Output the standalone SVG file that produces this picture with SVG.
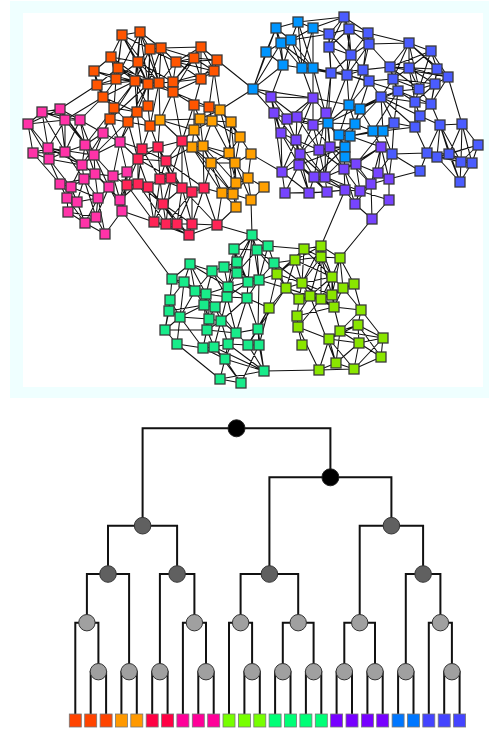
<svg xmlns="http://www.w3.org/2000/svg" width="489" height="730" viewBox="0 0 489 730">
<style>
.e{fill:none;stroke:#111;stroke-width:1.05}
.n rect{width:10px;height:10px;stroke:#3a3a3a;stroke-width:1.3}
.o{fill:#ff5500}.a{fill:#ffa000}.p{fill:#ff33a8}.r{fill:#ff2456}.z{fill:#0095ff}.b{fill:#4a5cff}.v{fill:#7744ff}.g{fill:#18eb8a}.l{fill:#8ae600}
.t{fill:none;stroke:#111;stroke-width:2}
.c0{fill:#000;stroke:#222;stroke-width:1}.c1{fill:#606060;stroke:#333;stroke-width:1}.c2{fill:#a0a0a0;stroke:#333;stroke-width:1}
.lf{stroke:#777;stroke-width:0.8}
</style>
<rect x="10" y="1" width="486" height="397" fill="#efffff"/>
<rect x="23" y="13" width="460" height="374" fill="#fff"/>
<g id="connectors">
<path class="e" d="M122 35L140 32M122 35L150 49M122 35L138 62M122 35L118 68M122 35L116 79M122 35L148 84M140 32L150 49M140 32L161 48M140 32L138 62M140 32L135 81M140 32L148 84M150 49L161 48M150 49L138 62M150 49L135 81M150 49L159 83M150 49L148 106M161 48L148 84M161 48L159 83M161 48L176 62M161 48L194 58M161 48L201 47M111 57L118 68M111 57L94 71M111 57L116 79M111 57L135 81M111 57L138 62M138 62L116 79M138 62L135 81M138 62L148 84M138 62L159 83M138 62L137 112M118 68L116 79M118 68L97 85M118 68L135 81M118 68L148 84M94 71L116 79M94 71L97 85M94 71L103 97M116 79L97 85M116 79L135 81M116 79L103 97M116 79L114 108M116 79L159 83M97 85L103 97M97 85L114 108M135 81L148 84M135 81L159 83M135 81L137 112M135 81L148 106M135 81L110 119M148 84L159 83M148 84L173 82M148 84L148 106M148 84L137 112M148 84L128 122M159 83L173 82M159 83L173 92M159 83L150 126M173 82L176 62M173 82L194 58M173 82L201 79M173 82L173 92M176 62L194 58M176 62L201 47M176 62L214 71M176 62L201 79M194 58L201 47M194 58L217 60M194 58L214 71M194 58L201 79M201 47L217 60M201 47L214 71M217 60L214 71M217 60L201 79M214 71L201 79M214 71L209 107M201 79L194 105M201 79L173 92M173 92L194 105M103 97L114 108M103 97L137 112M114 108L110 119M114 108L128 122M114 108L137 112M137 112L148 106M137 112L128 122M137 112L150 126M148 106L150 126M110 119L128 122M128 122L150 126M194 105L209 107M173 92L209 107M173 82L201 47M150 49L148 84M122 35L111 57M140 32L159 83M148 84L173 92M159 83L176 62M176 62L150 49M122 35L159 83M140 32L116 79M111 57L148 84M118 68L159 83M94 71L135 81M97 85L135 81M116 79L148 84M103 97L135 81M114 108L135 81M110 119L148 84M173 82L214 71M194 58L173 92M201 47L201 79M176 62L217 60M161 48L173 82M138 62L173 82"/>
<path class="e" d="M160 120L200 119M200 119L212 121M200 119L220 110M200 119L194 130M200 119L203 146M212 121L231 122M212 121L220 110M212 121L240 137M212 121L203 146M212 121L229 153M231 122L220 110M231 122L240 137M231 122L229 153M220 110L240 137M220 110L235 163M194 130L192 147M194 130L203 146M194 130L212 121M240 137L229 153M240 137L235 163M240 137L251 154M192 147L203 146M192 147L211 163M192 147L222 193M203 146L229 153M203 146L211 163M203 146L235 163M203 146L236 183M229 153L211 163M229 153L235 163M229 153L236 183M229 153L233 194M211 163L235 163M211 163L222 193M211 163L233 194M235 163L236 183M235 163L233 194M235 163L251 154M235 163L248 178M236 183L222 193M236 183L233 194M236 183L248 178M236 183L236 207M222 193L233 194M222 193L236 207M233 194L248 178M233 194L251 200M233 194L236 207M251 154L248 178M248 178L264 187M248 178L251 200M264 187L251 200M235 163L251 200M192 147L233 194M194 130L211 163M160 120L194 130M231 122L235 163"/>
<path class="e" d="M28 124L42 112M28 124L60 109M28 124L65 120M28 124L33 153M28 124L48 148M28 124L49 159M42 112L60 109M42 112L65 120M42 112L48 148M42 112L65 152M60 109L65 120M60 109L80 120M60 109L65 152M60 109L85 145M65 120L80 120M65 120L48 148M65 120L65 152M65 120L94 155M80 120L103 133M80 120L65 152M80 120L85 145M80 120L94 155M103 133L120 142M103 133L85 145M103 133L94 155M103 133L82 165M120 142L94 155M120 142L113 176M120 142L127 172M33 153L48 148M33 153L49 159M33 153L60 184M48 148L49 159M48 148L65 152M48 148L82 165M49 159L65 152M49 159L60 184M49 159L71 187M65 152L85 145M65 152L82 165M65 152L84 179M85 145L94 155M85 145L82 165M85 145L95 174M94 155L82 165M94 155L95 174M94 155L113 176M82 165L84 179M82 165L95 174M60 184L71 187M60 184L67 198M60 184L84 179M71 187L84 179M71 187L67 198M71 187L77 202M71 187L98 198M84 179L95 174M84 179L77 202M84 179L98 198M95 174L113 176M95 174L109 187M95 174L98 198M113 176L127 172M113 176L109 187M113 176L120 200M127 172L120 200M127 172L122 211M109 187L98 198M109 187L120 200M109 187L96 217M67 198L77 202M67 198L68 212M77 202L98 198M77 202L68 212M77 202L85 223M98 198L96 217M98 198L85 223M120 200L122 211M68 212L85 223M68 212L96 217M96 217L85 223M96 217L105 234M122 211L105 234M85 223L105 234M98 198L105 234M109 187L122 211M82 165L71 187M33 153L65 152M42 112L80 120M60 109L94 155M48 148L94 155M49 159L82 165M65 152L95 174M60 184L77 202M71 187L85 223M84 179L96 217M95 174L120 200M94 155L109 187M85 145L113 176M67 198L85 223"/>
<path class="e" d="M182 141L158 147M182 141L166 161M182 141L171 178M182 141L182 188M182 141L192 192M158 147L142 149M158 147L138 159M158 147L166 161M158 147L160 179M142 149L138 159M142 149L166 161M142 149L138 184M138 159L166 161M138 159L138 184M138 159L127 185M138 159L148 187M166 161L160 179M166 161L171 178M166 161L182 188M160 179L171 178M160 179L148 187M160 179L182 188M160 179L163 204M171 178L182 188M171 178L192 192M171 178L163 204M148 187L138 184M148 187L163 204M148 187L154 222M138 184L127 185M138 184L163 204M127 185L154 222M182 188L192 192M182 188L204 188M182 188L163 204M182 188L177 224M182 188L192 224M192 192L204 188M192 192L192 224M192 192L166 224M204 188L217 225M204 188L192 224M163 204L154 222M163 204L166 224M163 204L177 224M163 204L192 224M154 222L166 224M154 222L189 235M166 224L177 224M166 224L189 235M177 224L192 224M177 224L189 235M192 224L217 225M192 224L189 235M217 225L189 235M192 192L177 224M171 178L166 224M166 161L204 188M158 147L171 178M127 185L148 187M160 179L154 222M142 149L160 179M138 159L171 178M138 184L166 224M148 187L177 224M160 179L192 192M163 204L189 235M182 188L217 225"/>
<path class="e" d="M103 97L65 120M103 97L80 120M97 85L60 109M110 119L103 133M114 108L103 133M110 119L120 142M128 122L120 142M137 112L142 149M150 126L158 147M150 126L142 149M128 122L138 159M173 92L182 141M194 105L200 119M194 105L194 130M209 107L212 121M209 107L220 110M214 71L220 110M209 107L200 119M159 83L160 120M150 126L160 120M173 92L160 120M194 105L182 141M160 120L182 141M160 120L158 147M194 130L182 141M192 147L182 141M192 147L166 161M211 163L204 188M222 193L204 188M203 146L204 188M236 207L217 225M222 193L217 225M120 142L142 149M120 142L138 159M127 172L127 185M127 172L138 159M113 176L127 185M122 211L127 185M120 200L138 184M122 211L154 222M120 200L127 185M137 112L120 142M114 108L85 145M137 112L94 155M217 60L253 89M220 110L253 89M251 154L282 172M251 200L252 235M217 225L252 235M122 211L172 279M345 190L321 246M372 219L340 258M264 371L319 370"/>
<path class="e" d="M276 28L298 22M276 28L281 43M276 28L291 40M276 28L266 52M276 28L283 65M298 22L313 28M298 22L291 40M298 22L302 68M313 28L291 40M313 28L313 68M313 28L302 68M281 43L291 40M281 43L266 52M281 43L283 65M281 43L302 68M281 43L313 68M291 40L283 65M291 40L302 68M291 40L313 68M266 52L283 65M266 52L253 89M283 65L302 68M283 65L253 89M302 68L313 68M276 28L253 89M281 43L253 89M298 22L313 68M349 105L360 109M349 105L328 123M349 105L355 124M349 105L339 135M360 109L355 124M360 109L350 136M360 109L373 131M328 123L339 135M328 123L345 147M355 124L339 135M355 124L350 136M355 124L373 131M339 135L350 136M339 135L345 147M339 135L345 157M350 136L373 131M350 136L345 147M350 136L345 157M373 131L383 131M383 131L350 136M345 147L345 157M328 123L355 124M313 68L328 123M298 22L344 17"/>
<path class="e" d="M344 17L329 34M344 17L349 29M344 17L368 33M344 17L329 47M344 17L351 55M329 34L349 29M329 34L329 47M329 34L351 55M329 34L331 73M349 29L368 33M349 29L329 47M349 29L369 44M349 29L351 55M349 29L347 75M368 33L369 44M368 33L351 55M368 33L363 70M368 33L409 43M329 47L351 55M329 47L331 73M329 47L347 75M369 44L351 55M369 44L363 70M369 44L347 75M369 44L409 43M351 55L363 70M351 55L331 73M351 55L347 75M363 70L347 75M363 70L369 81M331 73L347 75M347 75L369 81M409 43L431 51M409 43L390 67M409 43L409 68M409 43L437 69M409 43L448 77M409 43L393 79M431 51L390 67M431 51L409 68M431 51L437 69M431 51L448 77M390 67L409 68M390 67L437 69M390 67L393 79M390 67L398 91M390 67L419 89M409 68L437 69M409 68L448 77M409 68L393 79M409 68L419 89M409 68L435 84M437 69L448 77M437 69L435 84M437 69L419 89M448 77L435 84M448 77L431 104M448 77L462 124M393 79L398 91M393 79L419 89M393 79L381 97M398 91L419 89M398 91L381 97M398 91L415 102M398 91L394 123M419 89L435 84M419 89L415 102M419 89L431 104M435 84L415 102M435 84L431 104M381 97L415 102M381 97L394 123M381 97L415 127M415 102L431 104M415 102L420 116M415 102L415 127M431 104L420 116M431 104L440 125M420 116L415 127M420 116L440 125M394 123L415 127M394 123L392 154M415 127L427 153M440 125L462 124M440 125L437 157M462 124L461 162M462 124L472 163M462 124L478 145M462 124L449 154M440 125L449 154M392 154L427 153M392 154L420 171M427 153L437 157M427 153L449 154M427 153L420 171M437 157L449 154M437 157L461 162M437 157L460 182M449 154L461 162M449 154L472 163M449 154L460 182M461 162L472 163M461 162L478 145M461 162L460 182M472 163L478 145M472 163L460 182M478 145L449 154M478 145L437 157M427 153L461 162M440 125L461 162M440 125L427 153M440 125L460 182M369 81L381 97M363 70L390 67M369 81L393 79M347 75L398 91M331 73L390 67M369 44L390 67M390 67L448 77M393 79L435 84M398 91L431 104M409 43L419 89M431 51L419 89M409 68L415 102M437 69L431 104M381 97L420 116"/>
<path class="e" d="M383 131L394 123M383 131L381 97M373 131L398 91M383 131L392 154M328 123L381 97M313 28L329 34M313 28L344 17M313 68L331 73M302 68L331 73M313 68L347 75M291 40L329 34M347 75L349 105M347 75L328 123M363 70L349 105M369 81L360 109M369 81L349 105M381 97L360 109M398 91L360 109M331 73L328 123M373 131L394 123M383 131L415 127M355 124L381 97"/>
<path class="e" d="M271 97L313 98M271 97L274 113M271 97L287 119M271 97L297 117M271 97L281 133M253 89L271 97M313 98L287 119M313 98L297 117M313 98L313 125M313 98L326 113M313 98L296 140M274 113L287 119M274 113L281 133M274 113L296 140M287 119L297 117M287 119L281 133M287 119L296 140M287 119L313 125M297 117L313 125M297 117L296 140M297 117L319 150M313 125L326 113M313 125L319 150M313 125L330 147M313 125L300 154M326 113L330 147M326 113L319 150M281 133L296 140M281 133L300 154M281 133L299 165M296 140L319 150M296 140L300 154M296 140L299 165M296 140L282 172M319 150L330 147M319 150L300 154M319 150L314 177M319 150L325 177M330 147L325 177M330 147L344 169M330 147L356 164M300 154L299 165M300 154L282 172M300 154L314 177M299 165L282 172M299 165L314 177M299 165L285 193M299 165L309 193M282 172L285 193M282 172L309 193M314 177L325 177M314 177L309 193M314 177L327 192M325 177L344 169M325 177L327 192M325 177L345 190M344 169L356 164M344 169L345 190M344 169L360 191M356 164L381 147M356 164L378 173M356 164L360 191M378 173L389 179M378 173L381 147M378 173L371 184M389 179L371 184M389 179L389 200M381 147L371 184M381 147L389 179M371 184L360 191M371 184L355 204M371 184L372 219M285 193L309 193M285 193L327 192M309 193L327 192M309 193L345 190M327 192L345 190M345 190L360 191M345 190L355 204M360 191L355 204M360 191L389 200M355 204L372 219M389 200L372 219M274 113L282 172M381 147L344 169M326 113L325 177M296 140L325 177M281 133L282 172M296 140L309 193M300 154L325 177M319 150L344 169M299 165L327 192M314 177L345 190M325 177L360 191M356 164L371 184M344 169L355 204"/>
<path class="e" d="M326 113L328 123M319 150L345 147M330 147L328 123M330 147L345 147M325 177L345 157M344 169L345 157M300 154L328 123M313 125L328 123M356 164L345 157M381 147L373 131M299 165L345 147M314 177L345 147M381 147L350 136M297 117L328 123M313 98L349 105M253 89L313 98M253 89L274 113M302 68L313 98M313 68L313 98M283 65L271 97M331 73L326 113M356 164L383 131M345 157L371 184M381 147L392 154M389 179L392 154M378 173L392 154M389 179L420 171"/>
<path class="e" d="M252 235L234 249M252 235L257 250M252 235L268 246M252 235L237 262M252 235L237 273M252 235L248 282M252 235L259 280M234 249L257 250M234 249L237 262M234 249L237 273M234 249L248 282M257 250L268 246M257 250L237 273M257 250L259 280M257 250L274 263M268 246L274 263M268 246L259 280M237 262L224 267M237 262L237 273M237 262L228 287M224 267L212 271M224 267L228 287M224 267L237 273M212 271L190 264M212 271L206 294M212 271L228 287M212 271L195 291M190 264L172 279M190 264L184 282M190 264L195 291M190 264L228 287M172 279L184 282M172 279L170 300M172 279L195 291M184 282L195 291M184 282L206 294M184 282L170 300M184 282L180 317M195 291L206 294M195 291L204 305M195 291L215 307M206 294L228 287M206 294L227 297M206 294L204 305M206 294L215 307M228 287L237 273M228 287L248 282M228 287L227 297M228 287L247 298M237 273L248 282M237 273L259 280M248 282L259 280M248 282L247 298M248 282L227 297M259 280L274 263M259 280L247 298M259 280L258 329M227 297L247 298M227 297L215 307M227 297L221 321M247 298L236 333M247 298L258 329M247 298L221 321M170 300L169 311M170 300L180 317M170 300L165 330M169 311L180 317M169 311L165 330M169 311L204 305M204 305L215 307M204 305L209 319M204 305L180 317M215 307L209 319M215 307L221 321M180 317L165 330M180 317L209 319M180 317L177 344M209 319L221 321M209 319L207 330M209 319L203 348M221 321L207 330M221 321L236 333M221 321L214 347M165 330L177 344M165 330L207 330M207 330L203 348M207 330L214 347M207 330L236 333M236 333L258 329M236 333L228 344M236 333L248 345M258 329L259 345M258 329L248 345M177 344L203 348M177 344L220 379M203 348L214 347M203 348L225 359M214 347L228 344M214 347L225 359M228 344L248 345M228 344L225 359M248 345L259 345M248 345L264 371M259 345L264 371M225 359L220 379M225 359L241 383M225 359L264 371M220 379L241 383M259 345L241 383M228 344L264 371M214 347L241 383M258 329L264 371M264 371L220 379M264 371L214 347M234 249L228 287M237 262L248 282M212 271L227 297M190 264L206 294M195 291L180 317M206 294L209 319M204 305L207 330M215 307L236 333M180 317L203 348M221 321L228 344M236 333L225 359M227 297L236 333"/>
<path class="e" d="M277 274L295 260M277 274L286 288M277 274L302 283M277 274L304 249M295 260L304 249M295 260L321 246M295 260L321 257M295 260L302 283M295 260L286 288M304 249L321 246M304 249L321 257M304 249L302 283M304 249L332 277M321 246L321 257M321 246L340 258M321 246L332 277M321 246L302 283M321 257L340 258M321 257L332 277M321 257L302 283M321 257L310 296M321 257L321 299M340 258L332 277M340 258L343 288M340 258L354 284M340 258L332 295M332 277L302 283M332 277L343 288M332 277L310 296M332 277L321 299M332 277L332 295M332 277L334 307M286 288L302 283M286 288L299 299M286 288L310 296M286 288L269 308M302 283L299 299M302 283L310 296M302 283L321 299M302 283L332 295M343 288L354 284M343 288L332 295M343 288L334 307M343 288L361 310M354 284L332 295M354 284L361 310M299 299L310 296M299 299L297 316M299 299L332 295M310 296L321 299M310 296L334 307M310 296L297 316M321 299L332 295M321 299L334 307M321 299L298 327M332 295L334 307M334 307L297 316M334 307L340 331M334 307L361 310M297 316L298 327M298 327L302 345M298 327L329 339M361 310L358 325M361 310L383 338M361 310L340 331M358 325L340 331M358 325L359 343M358 325L383 338M358 325L329 339M329 339L340 331M329 339L359 343M329 339L336 363M329 339L354 369M340 331L359 343M340 331L336 363M359 343L383 338M359 343L381 357M359 343L354 369M383 338L381 357M381 357L354 369M336 363L354 369M336 363L319 370M354 369L319 370M329 339L319 370M340 331L381 357M358 325L381 357M383 338L354 369M269 308L277 274M310 296L336 363M298 327L319 370M295 260L332 277M286 288L321 299M302 283L334 307M299 299L321 299M321 257L332 295M340 331L383 338M359 343L336 363"/>
<path class="e" d="M274 263L277 274M268 246L304 249M259 280L277 274M274 263L295 260M257 250L277 274M274 263L286 288M259 345L269 308M258 329L269 308M259 280L286 288M247 298L269 308M248 345L269 308M274 263L302 283M258 329L286 288"/>
</g>
<g class="n">
<g id="o1"><rect class="o" x="117" y="30" width="10" height="10"/></g>
<g id="o2"><rect class="o" x="135" y="27" width="10" height="10"/></g>
<g id="o3"><rect class="o" x="145" y="44" width="10" height="10"/></g>
<g id="o4"><rect class="o" x="156" y="43" width="10" height="10"/></g>
<g id="o5"><rect class="o" x="106" y="52" width="10" height="10"/></g>
<g id="o6"><rect class="o" x="133" y="57" width="10" height="10"/></g>
<g id="o7"><rect class="o" x="113" y="63" width="10" height="10"/></g>
<g id="o8"><rect class="o" x="89" y="66" width="10" height="10"/></g>
<g id="o9"><rect class="o" x="111" y="74" width="10" height="10"/></g>
<g id="o10"><rect class="o" x="92" y="80" width="10" height="10"/></g>
<g id="o11"><rect class="o" x="130" y="76" width="10" height="10"/></g>
<g id="o12"><rect class="o" x="143" y="79" width="10" height="10"/></g>
<g id="o13"><rect class="o" x="154" y="78" width="10" height="10"/></g>
<g id="o14"><rect class="o" x="168" y="77" width="10" height="10"/></g>
<g id="o15"><rect class="o" x="171" y="57" width="10" height="10"/></g>
<g id="o16"><rect class="o" x="189" y="53" width="10" height="10"/></g>
<g id="o17"><rect class="o" x="196" y="42" width="10" height="10"/></g>
<g id="o18"><rect class="o" x="212" y="55" width="10" height="10"/></g>
<g id="o19"><rect class="o" x="209" y="66" width="10" height="10"/></g>
<g id="o20"><rect class="o" x="196" y="74" width="10" height="10"/></g>
<g id="o21"><rect class="o" x="168" y="87" width="10" height="10"/></g>
<g id="o22"><rect class="o" x="98" y="92" width="10" height="10"/></g>
<g id="o23"><rect class="o" x="109" y="103" width="10" height="10"/></g>
<g id="o24"><rect class="o" x="132" y="107" width="10" height="10"/></g>
<g id="o25"><rect class="o" x="143" y="101" width="10" height="10"/></g>
<g id="o26"><rect class="o" x="105" y="114" width="10" height="10"/></g>
<g id="o27"><rect class="o" x="123" y="117" width="10" height="10"/></g>
<g id="o28"><rect class="o" x="145" y="121" width="10" height="10"/></g>
<g id="o29"><rect class="o" x="189" y="100" width="10" height="10"/></g>
<g id="o30"><rect class="o" x="204" y="102" width="10" height="10"/></g>
<g id="a1"><rect class="a" x="155" y="115" width="10" height="10"/></g>
<g id="a2"><rect class="a" x="195" y="114" width="10" height="10"/></g>
<g id="a3"><rect class="a" x="207" y="116" width="10" height="10"/></g>
<g id="a4"><rect class="a" x="226" y="117" width="10" height="10"/></g>
<g id="a5"><rect class="a" x="215" y="105" width="10" height="10"/></g>
<g id="a6"><rect class="a" x="189" y="125" width="10" height="10"/></g>
<g id="a7"><rect class="a" x="235" y="132" width="10" height="10"/></g>
<g id="a8"><rect class="a" x="187" y="142" width="10" height="10"/></g>
<g id="a9"><rect class="a" x="198" y="141" width="10" height="10"/></g>
<g id="a10"><rect class="a" x="224" y="148" width="10" height="10"/></g>
<g id="a11"><rect class="a" x="206" y="158" width="10" height="10"/></g>
<g id="a12"><rect class="a" x="230" y="158" width="10" height="10"/></g>
<g id="a13"><rect class="a" x="231" y="178" width="10" height="10"/></g>
<g id="a14"><rect class="a" x="217" y="188" width="10" height="10"/></g>
<g id="a15"><rect class="a" x="228" y="189" width="10" height="10"/></g>
<g id="a16"><rect class="a" x="246" y="149" width="10" height="10"/></g>
<g id="a17"><rect class="a" x="243" y="173" width="10" height="10"/></g>
<g id="a18"><rect class="a" x="259" y="182" width="10" height="10"/></g>
<g id="a19"><rect class="a" x="246" y="195" width="10" height="10"/></g>
<g id="a20"><rect class="a" x="231" y="202" width="10" height="10"/></g>
<g id="p1"><rect class="p" x="23" y="119" width="10" height="10"/></g>
<g id="p2"><rect class="p" x="37" y="107" width="10" height="10"/></g>
<g id="p3"><rect class="p" x="55" y="104" width="10" height="10"/></g>
<g id="p4"><rect class="p" x="60" y="115" width="10" height="10"/></g>
<g id="p5"><rect class="p" x="75" y="115" width="10" height="10"/></g>
<g id="p6"><rect class="p" x="98" y="128" width="10" height="10"/></g>
<g id="p7"><rect class="p" x="115" y="137" width="10" height="10"/></g>
<g id="p8"><rect class="p" x="28" y="148" width="10" height="10"/></g>
<g id="p9"><rect class="p" x="43" y="143" width="10" height="10"/></g>
<g id="p10"><rect class="p" x="44" y="154" width="10" height="10"/></g>
<g id="p11"><rect class="p" x="60" y="147" width="10" height="10"/></g>
<g id="p12"><rect class="p" x="80" y="140" width="10" height="10"/></g>
<g id="p13"><rect class="p" x="89" y="150" width="10" height="10"/></g>
<g id="p14"><rect class="p" x="77" y="160" width="10" height="10"/></g>
<g id="p15"><rect class="p" x="55" y="179" width="10" height="10"/></g>
<g id="p16"><rect class="p" x="66" y="182" width="10" height="10"/></g>
<g id="p17"><rect class="p" x="79" y="174" width="10" height="10"/></g>
<g id="p18"><rect class="p" x="90" y="169" width="10" height="10"/></g>
<g id="p19"><rect class="p" x="108" y="171" width="10" height="10"/></g>
<g id="p20"><rect class="p" x="122" y="167" width="10" height="10"/></g>
<g id="p21"><rect class="p" x="104" y="182" width="10" height="10"/></g>
<g id="p22"><rect class="p" x="62" y="193" width="10" height="10"/></g>
<g id="p23"><rect class="p" x="72" y="197" width="10" height="10"/></g>
<g id="p24"><rect class="p" x="93" y="193" width="10" height="10"/></g>
<g id="p25"><rect class="p" x="115" y="195" width="10" height="10"/></g>
<g id="p26"><rect class="p" x="63" y="207" width="10" height="10"/></g>
<g id="p27"><rect class="p" x="91" y="212" width="10" height="10"/></g>
<g id="p28"><rect class="p" x="117" y="206" width="10" height="10"/></g>
<g id="p29"><rect class="p" x="80" y="218" width="10" height="10"/></g>
<g id="p30"><rect class="p" x="100" y="229" width="10" height="10"/></g>
<g id="r1"><rect class="r" x="177" y="136" width="10" height="10"/></g>
<g id="r2"><rect class="r" x="153" y="142" width="10" height="10"/></g>
<g id="r3"><rect class="r" x="137" y="144" width="10" height="10"/></g>
<g id="r4"><rect class="r" x="133" y="154" width="10" height="10"/></g>
<g id="r5"><rect class="r" x="161" y="156" width="10" height="10"/></g>
<g id="r6"><rect class="r" x="155" y="174" width="10" height="10"/></g>
<g id="r7"><rect class="r" x="166" y="173" width="10" height="10"/></g>
<g id="r8"><rect class="r" x="143" y="182" width="10" height="10"/></g>
<g id="r9"><rect class="r" x="133" y="179" width="10" height="10"/></g>
<g id="r10"><rect class="r" x="122" y="180" width="10" height="10"/></g>
<g id="r11"><rect class="r" x="177" y="183" width="10" height="10"/></g>
<g id="r12"><rect class="r" x="187" y="187" width="10" height="10"/></g>
<g id="r13"><rect class="r" x="199" y="183" width="10" height="10"/></g>
<g id="r14"><rect class="r" x="158" y="199" width="10" height="10"/></g>
<g id="r15"><rect class="r" x="149" y="217" width="10" height="10"/></g>
<g id="r16"><rect class="r" x="161" y="219" width="10" height="10"/></g>
<g id="r17"><rect class="r" x="172" y="219" width="10" height="10"/></g>
<g id="r18"><rect class="r" x="187" y="219" width="10" height="10"/></g>
<g id="r19"><rect class="r" x="212" y="220" width="10" height="10"/></g>
<g id="r20"><rect class="r" x="184" y="230" width="10" height="10"/></g>
<g id="z1"><rect class="z" x="271" y="23" width="10" height="10"/></g>
<g id="z2"><rect class="z" x="293" y="17" width="10" height="10"/></g>
<g id="z3"><rect class="z" x="308" y="23" width="10" height="10"/></g>
<g id="z4"><rect class="z" x="276" y="38" width="10" height="10"/></g>
<g id="z5"><rect class="z" x="286" y="35" width="10" height="10"/></g>
<g id="z6"><rect class="z" x="261" y="47" width="10" height="10"/></g>
<g id="z7"><rect class="z" x="278" y="60" width="10" height="10"/></g>
<g id="z8"><rect class="z" x="297" y="63" width="10" height="10"/></g>
<g id="z9"><rect class="z" x="308" y="63" width="10" height="10"/></g>
<g id="z10"><rect class="z" x="248" y="84" width="10" height="10"/></g>
<g id="z11"><rect class="z" x="344" y="100" width="10" height="10"/></g>
<g id="z12"><rect class="z" x="355" y="104" width="10" height="10"/></g>
<g id="z13"><rect class="z" x="323" y="118" width="10" height="10"/></g>
<g id="z14"><rect class="z" x="350" y="119" width="10" height="10"/></g>
<g id="z15"><rect class="z" x="334" y="130" width="10" height="10"/></g>
<g id="z16"><rect class="z" x="345" y="131" width="10" height="10"/></g>
<g id="z17"><rect class="z" x="368" y="126" width="10" height="10"/></g>
<g id="z18"><rect class="z" x="378" y="126" width="10" height="10"/></g>
<g id="z19"><rect class="z" x="340" y="142" width="10" height="10"/></g>
<g id="z20"><rect class="z" x="340" y="152" width="10" height="10"/></g>
<g id="b1"><rect class="b" x="339" y="12" width="10" height="10"/></g>
<g id="b2"><rect class="b" x="324" y="29" width="10" height="10"/></g>
<g id="b3"><rect class="b" x="344" y="24" width="10" height="10"/></g>
<g id="b4"><rect class="b" x="363" y="28" width="10" height="10"/></g>
<g id="b5"><rect class="b" x="324" y="42" width="10" height="10"/></g>
<g id="b6"><rect class="b" x="364" y="39" width="10" height="10"/></g>
<g id="b7"><rect class="b" x="346" y="50" width="10" height="10"/></g>
<g id="b8"><rect class="b" x="358" y="65" width="10" height="10"/></g>
<g id="b9"><rect class="b" x="326" y="68" width="10" height="10"/></g>
<g id="b10"><rect class="b" x="342" y="70" width="10" height="10"/></g>
<g id="b11"><rect class="b" x="364" y="76" width="10" height="10"/></g>
<g id="b12"><rect class="b" x="404" y="38" width="10" height="10"/></g>
<g id="b13"><rect class="b" x="426" y="46" width="10" height="10"/></g>
<g id="b14"><rect class="b" x="385" y="62" width="10" height="10"/></g>
<g id="b15"><rect class="b" x="404" y="63" width="10" height="10"/></g>
<g id="b16"><rect class="b" x="432" y="64" width="10" height="10"/></g>
<g id="b17"><rect class="b" x="443" y="72" width="10" height="10"/></g>
<g id="b18"><rect class="b" x="388" y="74" width="10" height="10"/></g>
<g id="b19"><rect class="b" x="393" y="86" width="10" height="10"/></g>
<g id="b20"><rect class="b" x="414" y="84" width="10" height="10"/></g>
<g id="b21"><rect class="b" x="430" y="79" width="10" height="10"/></g>
<g id="b22"><rect class="b" x="376" y="92" width="10" height="10"/></g>
<g id="b23"><rect class="b" x="410" y="97" width="10" height="10"/></g>
<g id="b24"><rect class="b" x="426" y="99" width="10" height="10"/></g>
<g id="b25"><rect class="b" x="415" y="111" width="10" height="10"/></g>
<g id="b26"><rect class="b" x="389" y="118" width="10" height="10"/></g>
<g id="b27"><rect class="b" x="410" y="122" width="10" height="10"/></g>
<g id="b28"><rect class="b" x="435" y="120" width="10" height="10"/></g>
<g id="b29"><rect class="b" x="457" y="119" width="10" height="10"/></g>
<g id="b30"><rect class="b" x="387" y="149" width="10" height="10"/></g>
<g id="b31"><rect class="b" x="422" y="148" width="10" height="10"/></g>
<g id="b32"><rect class="b" x="432" y="152" width="10" height="10"/></g>
<g id="b33"><rect class="b" x="444" y="149" width="10" height="10"/></g>
<g id="b34"><rect class="b" x="456" y="157" width="10" height="10"/></g>
<g id="b35"><rect class="b" x="467" y="158" width="10" height="10"/></g>
<g id="b36"><rect class="b" x="473" y="140" width="10" height="10"/></g>
<g id="b37"><rect class="b" x="415" y="166" width="10" height="10"/></g>
<g id="b38"><rect class="b" x="455" y="177" width="10" height="10"/></g>
<g id="v1"><rect class="v" x="266" y="92" width="10" height="10"/></g>
<g id="v2"><rect class="v" x="308" y="93" width="10" height="10"/></g>
<g id="v3"><rect class="v" x="269" y="108" width="10" height="10"/></g>
<g id="v4"><rect class="v" x="282" y="114" width="10" height="10"/></g>
<g id="v5"><rect class="v" x="292" y="112" width="10" height="10"/></g>
<g id="v6"><rect class="v" x="308" y="120" width="10" height="10"/></g>
<g id="v7"><rect class="v" x="321" y="108" width="10" height="10"/></g>
<g id="v8"><rect class="v" x="276" y="128" width="10" height="10"/></g>
<g id="v9"><rect class="v" x="291" y="135" width="10" height="10"/></g>
<g id="v10"><rect class="v" x="314" y="145" width="10" height="10"/></g>
<g id="v11"><rect class="v" x="325" y="142" width="10" height="10"/></g>
<g id="v12"><rect class="v" x="295" y="149" width="10" height="10"/></g>
<g id="v13"><rect class="v" x="294" y="160" width="10" height="10"/></g>
<g id="v14"><rect class="v" x="277" y="167" width="10" height="10"/></g>
<g id="v15"><rect class="v" x="309" y="172" width="10" height="10"/></g>
<g id="v16"><rect class="v" x="320" y="172" width="10" height="10"/></g>
<g id="v17"><rect class="v" x="339" y="164" width="10" height="10"/></g>
<g id="v18"><rect class="v" x="351" y="159" width="10" height="10"/></g>
<g id="v19"><rect class="v" x="373" y="168" width="10" height="10"/></g>
<g id="v20"><rect class="v" x="384" y="174" width="10" height="10"/></g>
<g id="v21"><rect class="v" x="376" y="142" width="10" height="10"/></g>
<g id="v22"><rect class="v" x="366" y="179" width="10" height="10"/></g>
<g id="v23"><rect class="v" x="280" y="188" width="10" height="10"/></g>
<g id="v24"><rect class="v" x="304" y="188" width="10" height="10"/></g>
<g id="v25"><rect class="v" x="322" y="187" width="10" height="10"/></g>
<g id="v26"><rect class="v" x="340" y="185" width="10" height="10"/></g>
<g id="v27"><rect class="v" x="355" y="186" width="10" height="10"/></g>
<g id="v28"><rect class="v" x="350" y="199" width="10" height="10"/></g>
<g id="v29"><rect class="v" x="384" y="195" width="10" height="10"/></g>
<g id="v30"><rect class="v" x="367" y="214" width="10" height="10"/></g>
<g id="g1"><rect class="g" x="247" y="230" width="10" height="10"/></g>
<g id="g2"><rect class="g" x="229" y="244" width="10" height="10"/></g>
<g id="g3"><rect class="g" x="252" y="245" width="10" height="10"/></g>
<g id="g4"><rect class="g" x="263" y="241" width="10" height="10"/></g>
<g id="g5"><rect class="g" x="232" y="257" width="10" height="10"/></g>
<g id="g6"><rect class="g" x="219" y="262" width="10" height="10"/></g>
<g id="g7"><rect class="g" x="207" y="266" width="10" height="10"/></g>
<g id="g8"><rect class="g" x="185" y="259" width="10" height="10"/></g>
<g id="g9"><rect class="g" x="167" y="274" width="10" height="10"/></g>
<g id="g10"><rect class="g" x="179" y="277" width="10" height="10"/></g>
<g id="g11"><rect class="g" x="190" y="286" width="10" height="10"/></g>
<g id="g12"><rect class="g" x="201" y="289" width="10" height="10"/></g>
<g id="g13"><rect class="g" x="223" y="282" width="10" height="10"/></g>
<g id="g14"><rect class="g" x="232" y="268" width="10" height="10"/></g>
<g id="g15"><rect class="g" x="243" y="277" width="10" height="10"/></g>
<g id="g16"><rect class="g" x="254" y="275" width="10" height="10"/></g>
<g id="g17"><rect class="g" x="269" y="258" width="10" height="10"/></g>
<g id="g18"><rect class="g" x="222" y="292" width="10" height="10"/></g>
<g id="g19"><rect class="g" x="242" y="293" width="10" height="10"/></g>
<g id="g20"><rect class="g" x="165" y="295" width="10" height="10"/></g>
<g id="g21"><rect class="g" x="164" y="306" width="10" height="10"/></g>
<g id="g22"><rect class="g" x="199" y="300" width="10" height="10"/></g>
<g id="g23"><rect class="g" x="210" y="302" width="10" height="10"/></g>
<g id="g24"><rect class="g" x="175" y="312" width="10" height="10"/></g>
<g id="g25"><rect class="g" x="204" y="314" width="10" height="10"/></g>
<g id="g26"><rect class="g" x="216" y="316" width="10" height="10"/></g>
<g id="g27"><rect class="g" x="160" y="325" width="10" height="10"/></g>
<g id="g28"><rect class="g" x="202" y="325" width="10" height="10"/></g>
<g id="g29"><rect class="g" x="231" y="328" width="10" height="10"/></g>
<g id="g30"><rect class="g" x="253" y="324" width="10" height="10"/></g>
<g id="g31"><rect class="g" x="172" y="339" width="10" height="10"/></g>
<g id="g32"><rect class="g" x="198" y="343" width="10" height="10"/></g>
<g id="g33"><rect class="g" x="209" y="342" width="10" height="10"/></g>
<g id="g34"><rect class="g" x="223" y="339" width="10" height="10"/></g>
<g id="g35"><rect class="g" x="243" y="340" width="10" height="10"/></g>
<g id="g36"><rect class="g" x="254" y="340" width="10" height="10"/></g>
<g id="g37"><rect class="g" x="220" y="354" width="10" height="10"/></g>
<g id="g38"><rect class="g" x="215" y="374" width="10" height="10"/></g>
<g id="g39"><rect class="g" x="236" y="378" width="10" height="10"/></g>
<g id="g40"><rect class="g" x="259" y="366" width="10" height="10"/></g>
<g id="l1"><rect class="l" x="272" y="269" width="10" height="10"/></g>
<g id="l2"><rect class="l" x="290" y="255" width="10" height="10"/></g>
<g id="l3"><rect class="l" x="299" y="244" width="10" height="10"/></g>
<g id="l4"><rect class="l" x="316" y="241" width="10" height="10"/></g>
<g id="l5"><rect class="l" x="316" y="252" width="10" height="10"/></g>
<g id="l6"><rect class="l" x="335" y="253" width="10" height="10"/></g>
<g id="l7"><rect class="l" x="327" y="272" width="10" height="10"/></g>
<g id="l8"><rect class="l" x="281" y="283" width="10" height="10"/></g>
<g id="l9"><rect class="l" x="297" y="278" width="10" height="10"/></g>
<g id="l10"><rect class="l" x="338" y="283" width="10" height="10"/></g>
<g id="l11"><rect class="l" x="349" y="279" width="10" height="10"/></g>
<g id="l12"><rect class="l" x="294" y="294" width="10" height="10"/></g>
<g id="l13"><rect class="l" x="305" y="291" width="10" height="10"/></g>
<g id="l14"><rect class="l" x="316" y="294" width="10" height="10"/></g>
<g id="l15"><rect class="l" x="327" y="290" width="10" height="10"/></g>
<g id="l16"><rect class="l" x="329" y="302" width="10" height="10"/></g>
<g id="l17"><rect class="l" x="264" y="303" width="10" height="10"/></g>
<g id="l18"><rect class="l" x="292" y="311" width="10" height="10"/></g>
<g id="l19"><rect class="l" x="293" y="322" width="10" height="10"/></g>
<g id="l20"><rect class="l" x="356" y="305" width="10" height="10"/></g>
<g id="l21"><rect class="l" x="353" y="320" width="10" height="10"/></g>
<g id="l22"><rect class="l" x="297" y="340" width="10" height="10"/></g>
<g id="l23"><rect class="l" x="324" y="334" width="10" height="10"/></g>
<g id="l24"><rect class="l" x="335" y="326" width="10" height="10"/></g>
<g id="l25"><rect class="l" x="354" y="338" width="10" height="10"/></g>
<g id="l26"><rect class="l" x="378" y="333" width="10" height="10"/></g>
<g id="l27"><rect class="l" x="376" y="352" width="10" height="10"/></g>
<g id="l28"><rect class="l" x="331" y="358" width="10" height="10"/></g>
<g id="l29"><rect class="l" x="349" y="364" width="10" height="10"/></g>
<g id="l30"><rect class="l" x="314" y="365" width="10" height="10"/></g>
</g>
<g id="dendrogram-connectors">
<path class="t" d="M142.6 525.7V428.3H330.4V477.3M269.4 574V477.3H391.4V525.7M108 574V525.7H177.1V574M359.7 622.7V525.7H423.1V574M86.9 622.7V574H129.1V671.7M159.9 671.7V574H194.4V622.7M240.6 622.7V574H298.2V622.7M405.8 671.7V574H440.4V622.7M75.3 714V622.7H98.4V671.7M182.9 714V622.7H206V671.7M229 714V622.7H252.1V671.7M282.8 671.7V622.7H313.6V671.7M344.3 671.7V622.7H375V671.7M428.8 714V622.7H451.9V671.7M90.7 714V671.7H106.1V714M121.4 714V671.7H136.8V714M152.2 714V671.7H167.6V714M198.3 714V671.7H213.7V714M244.4 714V671.7H259.8V714M275.1 714V671.7H290.5V714M305.9 714V671.7H321.3V714M336.6 714V671.7H352V714M367.4 714V671.7H382.7V714M398.1 714V671.7H413.5V714M444.2 714V671.7H459.6V714"/>
</g>
<g id="tree-nodes">
<g id="t0"><circle class="c0" cx="236.5" cy="428.3" r="8.5"/></g>
<g id="t1"><circle class="c0" cx="330.4" cy="477.3" r="8.5"/></g>
<g id="t2"><circle class="c1" cx="142.6" cy="525.7" r="8.3"/></g>
<g id="t3"><circle class="c1" cx="391.4" cy="525.7" r="8.3"/></g>
<g id="t4"><circle class="c1" cx="108" cy="574" r="8.3"/></g>
<g id="t5"><circle class="c1" cx="177.1" cy="574" r="8.3"/></g>
<g id="t6"><circle class="c1" cx="269.4" cy="574" r="8.3"/></g>
<g id="t7"><circle class="c1" cx="423.1" cy="574" r="8.3"/></g>
<g id="t8"><circle class="c2" cx="86.9" cy="622.7" r="8.2"/></g>
<g id="t9"><circle class="c2" cx="194.4" cy="622.7" r="8.2"/></g>
<g id="t10"><circle class="c2" cx="240.6" cy="622.7" r="8.2"/></g>
<g id="t11"><circle class="c2" cx="298.2" cy="622.7" r="8.2"/></g>
<g id="t12"><circle class="c2" cx="359.7" cy="622.7" r="8.2"/></g>
<g id="t13"><circle class="c2" cx="440.4" cy="622.7" r="8.2"/></g>
<g id="t14"><circle class="c2" cx="98.4" cy="671.7" r="8.2"/></g>
<g id="t15"><circle class="c2" cx="129.1" cy="671.7" r="8.2"/></g>
<g id="t16"><circle class="c2" cx="159.9" cy="671.7" r="8.2"/></g>
<g id="t17"><circle class="c2" cx="206" cy="671.7" r="8.2"/></g>
<g id="t18"><circle class="c2" cx="252.1" cy="671.7" r="8.2"/></g>
<g id="t19"><circle class="c2" cx="282.8" cy="671.7" r="8.2"/></g>
<g id="t20"><circle class="c2" cx="313.6" cy="671.7" r="8.2"/></g>
<g id="t21"><circle class="c2" cx="344.3" cy="671.7" r="8.2"/></g>
<g id="t22"><circle class="c2" cx="375" cy="671.7" r="8.2"/></g>
<g id="t23"><circle class="c2" cx="405.8" cy="671.7" r="8.2"/></g>
<g id="t24"><circle class="c2" cx="451.9" cy="671.7" r="8.2"/></g>
</g>
<g id="leaves" class="lf">
<g id="leaf0"><rect x="69.3" y="714" width="12" height="13" fill="#ff4400"/></g>
<g id="leaf1"><rect x="84.7" y="714" width="12" height="13" fill="#ff4400"/></g>
<g id="leaf2"><rect x="100.1" y="714" width="12" height="13" fill="#ff4400"/></g>
<g id="leaf3"><rect x="115.4" y="714" width="12" height="13" fill="#ff9900"/></g>
<g id="leaf4"><rect x="130.8" y="714" width="12" height="13" fill="#ff9900"/></g>
<g id="leaf5"><rect x="146.2" y="714" width="12" height="13" fill="#ff0044"/></g>
<g id="leaf6"><rect x="161.6" y="714" width="12" height="13" fill="#ff0044"/></g>
<g id="leaf7"><rect x="176.9" y="714" width="12" height="13" fill="#ff0099"/></g>
<g id="leaf8"><rect x="192.3" y="714" width="12" height="13" fill="#ff0099"/></g>
<g id="leaf9"><rect x="207.7" y="714" width="12" height="13" fill="#ff0099"/></g>
<g id="leaf10"><rect x="223" y="714" width="12" height="13" fill="#77ff00"/></g>
<g id="leaf11"><rect x="238.4" y="714" width="12" height="13" fill="#77ff00"/></g>
<g id="leaf12"><rect x="253.8" y="714" width="12" height="13" fill="#77ff00"/></g>
<g id="leaf13"><rect x="269.1" y="714" width="12" height="13" fill="#00ff77"/></g>
<g id="leaf14"><rect x="284.5" y="714" width="12" height="13" fill="#00ff77"/></g>
<g id="leaf15"><rect x="299.9" y="714" width="12" height="13" fill="#00ff77"/></g>
<g id="leaf16"><rect x="315.3" y="714" width="12" height="13" fill="#00ff77"/></g>
<g id="leaf17"><rect x="330.6" y="714" width="12" height="13" fill="#7700ff"/></g>
<g id="leaf18"><rect x="346" y="714" width="12" height="13" fill="#7700ff"/></g>
<g id="leaf19"><rect x="361.4" y="714" width="12" height="13" fill="#7700ff"/></g>
<g id="leaf20"><rect x="376.7" y="714" width="12" height="13" fill="#7700ff"/></g>
<g id="leaf21"><rect x="392.1" y="714" width="12" height="13" fill="#0077ff"/></g>
<g id="leaf22"><rect x="407.5" y="714" width="12" height="13" fill="#0077ff"/></g>
<g id="leaf23"><rect x="422.8" y="714" width="12" height="13" fill="#4444ff"/></g>
<g id="leaf24"><rect x="438.2" y="714" width="12" height="13" fill="#4444ff"/></g>
<g id="leaf25"><rect x="453.6" y="714" width="12" height="13" fill="#4444ff"/></g>
</g>
</svg>
